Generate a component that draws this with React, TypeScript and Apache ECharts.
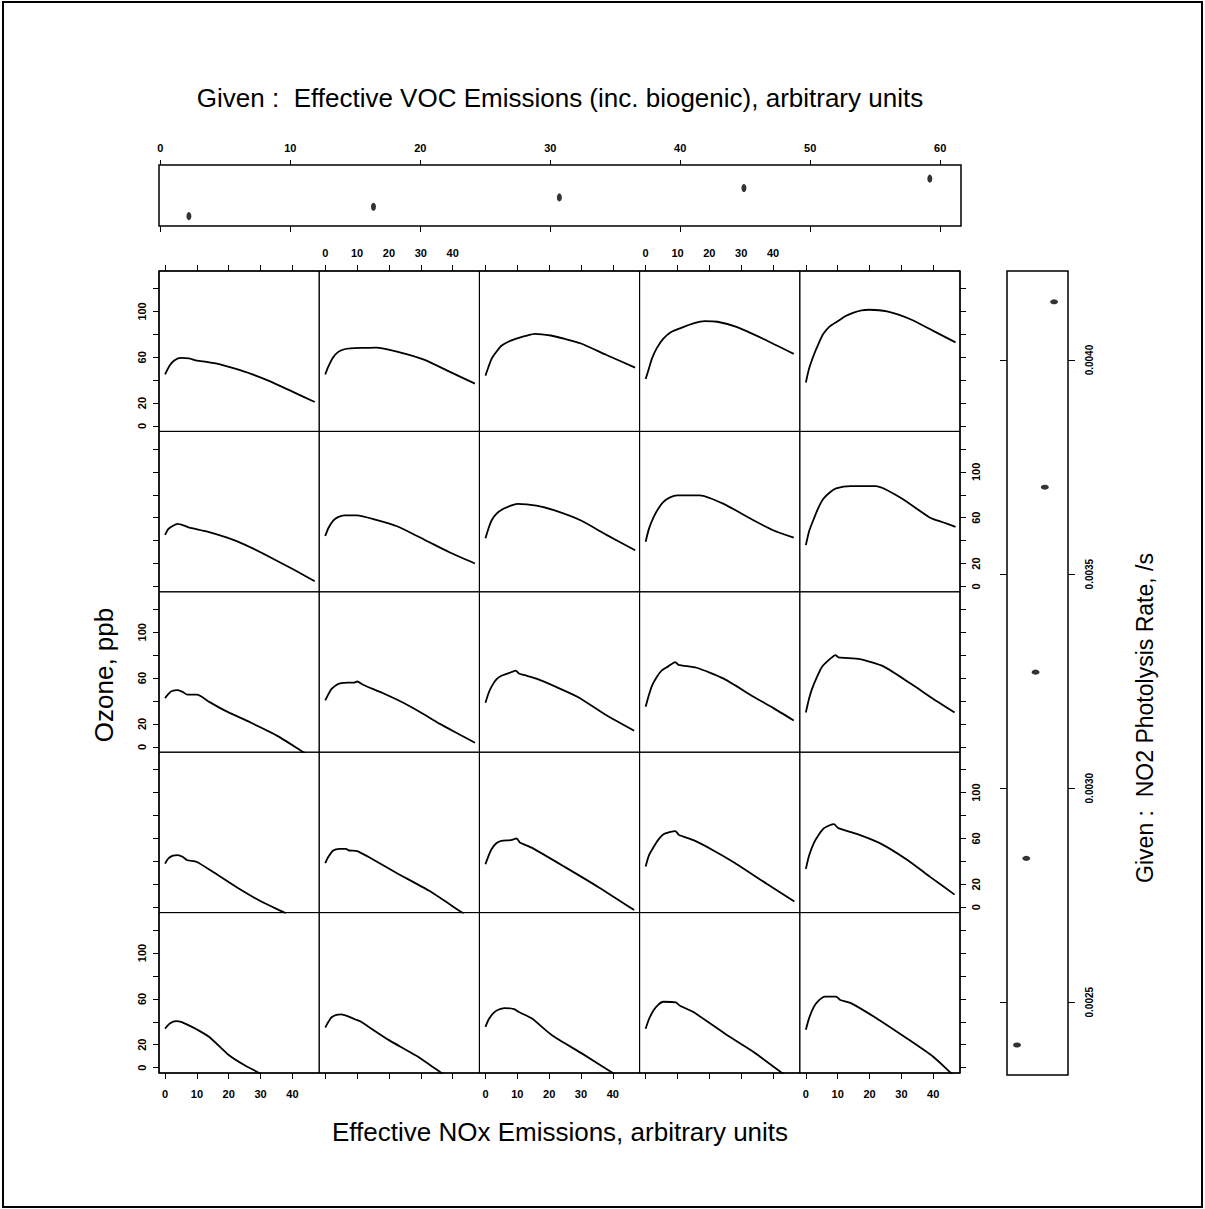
import React, { useEffect, useRef } from "react";
import * as echarts from "echarts";

// ---- tick / label values ----
const X_TICKS = [0, 10, 20, 30, 40];
const Y_TICKS = [0, 20, 40, 60, 80, 100, 120];
const Y_LABELS = [0, 20, 60, 100];
const VOC_TICKS = [0, 10, 20, 30, 40, 50, 60];
const NO2_TICKS = [0.0025, 0.003, 0.0035, 0.004];

// ---- given values (conditioning intervals) ----
const VOC_GIVEN = [2.2, 16.4, 30.7, 44.9, 59.2];
const NO2_GIVEN = [0.0024, 0.002836, 0.003271, 0.003703, 0.004136];

// ---- ozone curves: [NOx, ozone]; rows top (highest NO2) to bottom, cols low to high VOC ----
const R1C1 = [[0, 45], [1.5, 53], [3, 57.5], [5, 59.5], [7.5, 59], [10, 57], [13, 56], [17, 54], [22, 50], [27, 45.5], [33, 39], [40, 30], [47, 21]];
const R1C2 = [[0, 45], [1, 52], [2.5, 60], [4, 64.5], [6, 67], [8, 67.8], [12, 68.2], [16, 68.5], [22.5, 65], [31, 58], [39, 47.5], [47, 37]];
const R1C3 = [[0, 44], [1, 52], [2, 59], [3.5, 65], [5, 70], [7.5, 74], [10.5, 77], [13, 79], [15.5, 80.5], [20.5, 79], [25, 76], [30, 72], [38, 62], [47, 51]];
const R1C4 = [[0, 41], [1, 50], [2, 59], [3.5, 68], [5.5, 76], [8, 82], [11, 85.5], [15, 89.5], [18.5, 91.5], [22.5, 91], [28.5, 86.5], [37, 76], [46.5, 63]];
const R1C5 = [[0, 38], [1, 50], [2.5, 62], [4, 72], [5.5, 80.5], [7.5, 87], [10, 91.5], [12.5, 96], [15, 99], [17.5, 101], [20, 101.5], [25.5, 100], [33, 93], [40, 83], [47, 73]];

const R2C1 = [[0, 45], [1, 50], [2.5, 53], [4, 54.5], [6, 53], [8, 51], [13, 48], [19.5, 42.5], [25, 36.5], [33, 25.5], [40.5, 14.5], [47, 4.5]];
const R2C2 = [[0, 44], [1, 51], [2.5, 57.5], [4, 60.5], [6, 62], [10, 62], [16, 58], [22.5, 52.5], [31, 41], [39, 29.8], [47, 20]];
const R2C3 = [[0, 42], [1, 51], [2, 58], [3.5, 63.5], [5.5, 67.5], [8, 70.5], [10, 72], [16, 70.5], [21.5, 66.5], [30, 57.5], [38, 45], [47, 31.5]];
const R2C4 = [[0, 39], [1, 50], [2.5, 60.5], [4, 68], [5.5, 73.5], [7.5, 77.5], [10, 79.5], [17, 79.5], [24.5, 72], [34, 57.5], [40, 49], [46.5, 42.5]];
const R2C5 = [[0, 36], [1, 48], [2.5, 59], [4, 69], [5.5, 76.5], [7.5, 82], [9.5, 85.5], [14, 87.5], [22, 87.5], [30, 77], [39, 60], [43, 56], [47, 52]];

const R3C1 = [[0, 42.5], [1, 46], [2, 48.5], [4, 49.5], [5.5, 48], [7, 45.5], [10, 45.5], [14, 39], [18.5, 32], [27, 21], [35, 10], [43.5, -4.7], [44, -5.5]];
const R3C2 = [[0, 40.5], [1, 46], [2, 50.5], [3.5, 54], [5, 55.5], [7, 56], [9, 56], [10, 57], [12, 54], [18, 47], [24.5, 38.5], [30, 30], [36, 20], [42, 11], [47, 3.5]];
const R3C3 = [[0, 38.5], [1, 47], [2, 53], [3.5, 59], [5, 62], [7.5, 64.5], [9.5, 66.5], [10.5, 64], [13, 62], [16, 59.5], [22, 52.5], [29, 43.5], [38, 27.5], [46.7, 14]];
const R3C4 = [[0, 35], [1, 45], [2, 53.5], [3.5, 61], [5, 66.5], [7, 70], [9.3, 74], [10.3, 71.5], [16, 69], [24.5, 59.5], [34, 43.5], [40, 34], [46.5, 23]];
const R3C5 = [[0, 30], [1, 42], [2, 51], [3.5, 61], [5, 69.5], [7.5, 76.5], [9.3, 80], [10.3, 78], [17, 76.5], [24.5, 70], [33, 55], [41, 40], [46.7, 30]];

const R4C1 = [[0, 38], [1, 42.5], [2.5, 45], [4, 45.5], [5.5, 44], [7, 41], [10, 39.5], [15.5, 30], [23, 16.5], [30.5, 4.5], [37.5, -4.7], [38, -5.5]];
const R4C2 = [[0, 38.5], [1, 44], [2.5, 49.5], [4.5, 51], [6.5, 51], [7.5, 49.5], [10, 49], [13.5, 44], [22, 30.5], [32.5, 14.5], [43, -4.7], [43.5, -5.5]];
const R4C3 = [[0, 37.5], [1, 45], [2, 51], [3.5, 56], [5, 58], [8, 58.5], [9.8, 60], [10.8, 56.5], [14.5, 52], [25, 35], [35.5, 17.5], [46.7, -2.5]];
const R4C4 = [[0, 35.5], [1, 45], [2.5, 52.5], [4, 59], [5.5, 63.5], [7.5, 65.5], [9.3, 66.5], [10.5, 63], [15, 58.5], [21, 50], [27.5, 39.5], [38, 20.5], [46.7, 5]];
const R4C5 = [[0, 33.5], [1, 45], [2.5, 56], [4, 63], [5.5, 68.5], [7.5, 71.5], [8.8, 72.5], [10.2, 69], [16, 64], [23.5, 55.5], [32, 41], [39, 26.5], [46.7, 11]];

const R5C1 = [[0, 34], [1.5, 38.5], [3.5, 40.5], [5, 40], [7, 37.5], [10.5, 32.5], [14, 26.5], [20, 11], [25, 2], [30, -5.3]];
const R5C2 = [[0, 35], [1, 40], [2, 44], [3.5, 46], [5, 46.5], [7, 45], [9.5, 42], [11, 40.5], [14.5, 34], [20, 24], [28.5, 10.5], [36.5, -4.7], [37, -5.5]];
const R5C3 = [[0, 35.5], [1, 42], [2.5, 47.5], [4, 50.5], [6, 52], [9, 51], [10.5, 48.5], [14.5, 43], [21, 28], [30.5, 12], [40, -4.7], [40.5, -5.5]];
const R5C4 = [[0, 34], [1, 42], [2.5, 50], [4, 55], [5.5, 57.5], [9.5, 57], [10.8, 54], [15, 48.5], [25.5, 28.5], [34, 13.5], [42.8, -4.7], [43.3, -5.5]];
const R5C5 = [[0, 33], [1, 43], [2.5, 53], [4, 58.5], [6, 62], [9.5, 62], [10.8, 59], [14, 56.5], [22.5, 42.5], [32, 25], [40, 9.5], [45.5, -4.5], [46, -5.5]];

const PANELS = [
  [R1C1, R1C2, R1C3, R1C4, R1C5],
  [R2C1, R2C2, R2C3, R2C4, R2C5],
  [R3C1, R3C2, R3C3, R3C4, R3C5],
  [R4C1, R4C2, R4C3, R4C4, R4C5],
  [R5C1, R5C2, R5C3, R5C4, R5C5],
];

const FONT = '"Liberation Sans", Arial, Helvetica, sans-serif';

function buildOption() {
  const GX0 = 159, GY0 = 271, PW = 160.2, PH = 160.4;
  const grid: any[] = [];
  const xAxis: any[] = [];
  const yAxis: any[] = [];
  const series: any[] = [];
  const lbl = { color: "#000", fontSize: 11, fontWeight: "bold", fontFamily: FONT };
  const tickStyle = { color: "#000", width: 1 };

  for (let r = 0; r < 5; r++) {
    for (let c = 0; c < 5; c++) {
      const i = r * 5 + c;
      grid.push({
        left: GX0 + c * PW,
        top: GY0 + r * PH,
        width: PW,
        height: PH,
        show: true,
        borderColor: "#000",
        borderWidth: 1,
        backgroundColor: "transparent",
        containLabel: false,
      });
      xAxis.push({
        gridIndex: i,
        type: "value",
        min: -1.9,
        max: 48.4,
        position: r === 0 ? "top" : "bottom",
        splitLine: { show: false },
        axisLine: { show: false, onZero: false },
        axisTick: { show: r === 0 || r === 4, customValues: X_TICKS, length: 6, inside: false, lineStyle: tickStyle },
        axisLabel: {
          show: (r === 0 && c % 2 === 1) || (r === 4 && c % 2 === 0),
          customValues: X_TICKS,
          margin: r === 0 ? 13 : 15,
          ...lbl,
        },
      });
      yAxis.push({
        gridIndex: i,
        type: "value",
        min: -4.7,
        max: 135.3,
        position: c === 0 ? "left" : "right",
        splitLine: { show: false },
        axisLine: { show: false, onZero: false },
        axisTick: { show: c === 0 || c === 4, customValues: Y_TICKS, length: 6, inside: false, lineStyle: tickStyle },
        axisLabel: {
          show: (c === 0 && r % 2 === 0) || (c === 4 && r % 2 === 1),
          customValues: Y_LABELS,
          rotate: 90,
          margin: c === 0 ? 12 : 10,
          ...lbl,
        },
      });
      series.push({
        type: "line",
        xAxisIndex: i,
        yAxisIndex: i,
        data: PANELS[r][c],
        showSymbol: false,
        smooth: 0.2,
        clip: true,
        lineStyle: { color: "#000", width: 1.8 },
        silent: true,
      });
    }
  }

  // top given panel (VOC)
  grid.push({ left: 159, top: 165, width: 802, height: 61, show: true, borderColor: "#000", borderWidth: 1.5, backgroundColor: "transparent" });
  xAxis.push({
    gridIndex: 25, type: "value", min: -0.1, max: 61.6, position: "top",
    splitLine: { show: false }, axisLine: { show: false, onZero: false },
    axisTick: { show: true, customValues: VOC_TICKS, length: 5, lineStyle: tickStyle },
    axisLabel: { show: true, customValues: VOC_TICKS, margin: 12, ...lbl },
  });
  xAxis.push({
    gridIndex: 25, type: "value", min: -0.1, max: 61.6, position: "bottom",
    splitLine: { show: false }, axisLine: { show: false, onZero: false },
    axisTick: { show: true, customValues: VOC_TICKS, length: 6, lineStyle: tickStyle },
    axisLabel: { show: false },
  });
  yAxis.push({ gridIndex: 25, type: "value", min: -0.05, max: 6.45, show: false });
  series.push({
    type: "scatter", xAxisIndex: 25, yAxisIndex: 25,
    data: VOC_GIVEN.map((v, k) => [v, k + 1]),
    symbol: "circle", symbolSize: [5, 8], itemStyle: { color: "#000" }, silent: true,
  });

  // right given panel (NO2)
  grid.push({ left: 1007, top: 271, width: 61, height: 804, show: true, borderColor: "#000", borderWidth: 1.5, backgroundColor: "transparent" });
  xAxis.push({ gridIndex: 26, type: "value", min: -0.08, max: 6.5, show: false });
  yAxis.push({
    gridIndex: 26, type: "value", min: 0.00233, max: 0.004208, position: "right",
    splitLine: { show: false }, axisLine: { show: false, onZero: false },
    axisTick: { show: true, customValues: NO2_TICKS, length: 7, lineStyle: tickStyle },
    axisLabel: { show: true, customValues: NO2_TICKS, rotate: 90, margin: 16, formatter: (v: number) => v.toFixed(4), ...lbl, fontSize: 10 },
  });
  yAxis.push({
    gridIndex: 26, type: "value", min: 0.00233, max: 0.004208, position: "left",
    splitLine: { show: false }, axisLine: { show: false, onZero: false },
    axisTick: { show: true, customValues: NO2_TICKS, length: 7, lineStyle: tickStyle },
    axisLabel: { show: false },
  });
  series.push({
    type: "scatter", xAxisIndex: 27, yAxisIndex: 26,
    data: NO2_GIVEN.map((v, k) => [k + 1, v]),
    symbol: "circle", symbolSize: [8, 5], itemStyle: { color: "#000" }, silent: true,
  });

  const titleStyle = { fill: "#000", font: `26px ${FONT}`, align: "center", verticalAlign: "middle" };
  const graphic: any[] = [
    { type: "rect", shape: { x: 3, y: 2, width: 1199, height: 1205 }, style: { fill: "none", stroke: "#000", lineWidth: 2 }, silent: true },
    { type: "rect", shape: { x: GX0, y: GY0, width: PW * 5, height: PH * 5 }, style: { fill: "none", stroke: "#000", lineWidth: 1.5 }, silent: true },
    { type: "text", x: 560, y: 98, style: { ...titleStyle, text: "Given :  Effective VOC Emissions (inc. biogenic), arbitrary units" } },
    { type: "text", x: 560, y: 1132, style: { ...titleStyle, text: "Effective NOx Emissions, arbitrary units" } },
    { type: "text", x: 104, y: 675, rotation: Math.PI / 2, style: { ...titleStyle, text: "Ozone, ppb" } },
    { type: "text", x: 1145, y: 718, rotation: Math.PI / 2, style: { ...titleStyle, font: `23px ${FONT}`, text: "Given :  NO2 Photolysis Rate, /s" } },
  ];

  return {
    animation: false,
    backgroundColor: "#fff",
    grid,
    xAxis,
    yAxis,
    series,
    graphic,
  };
}

export default function App() {
  const ref = useRef<HTMLDivElement>(null);
  useEffect(() => {
    document.body.style.margin = "0";
    const chart = echarts.init(ref.current as HTMLDivElement, null, { renderer: "svg" });
    chart.setOption(buildOption() as any);
    return () => chart.dispose();
  }, []);
  return <div ref={ref} style={{ width: 1205, height: 1209 }} />;
}
